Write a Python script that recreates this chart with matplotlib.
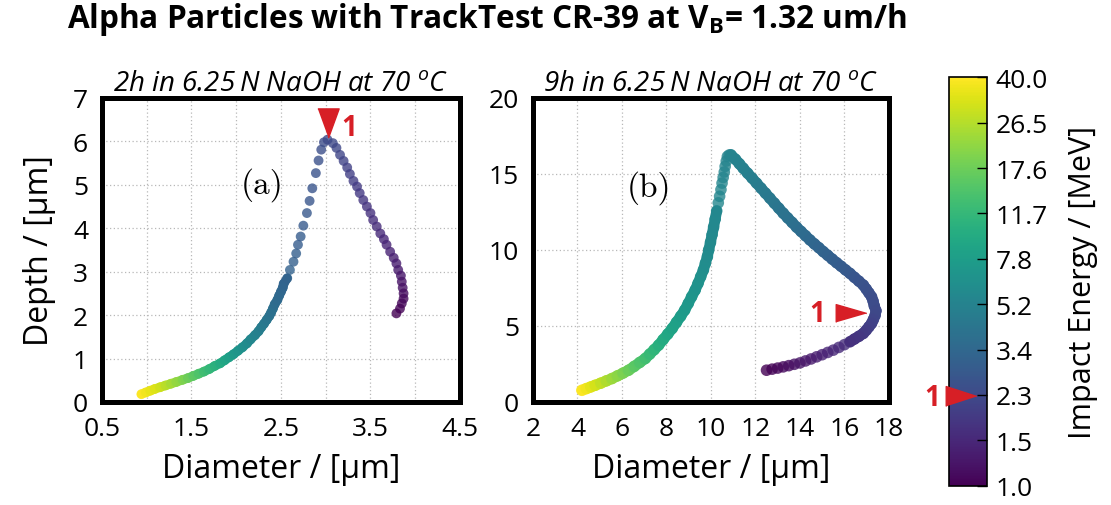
import numpy as np
import matplotlib.pyplot as plt
from matplotlib.colors import LogNorm
from matplotlib.cm import ScalarMappable
from matplotlib.lines import Line2D
from matplotlib.collections import LineCollection

plt.rcParams['font.family'] = ['Open Sans', 'DejaVu Sans']
plt.rcParams['mathtext.fontset'] = 'custom'
plt.rcParams['mathtext.it'] = 'Open Sans:italic'
plt.rcParams['mathtext.rm'] = 'Open Sans'
plt.rcParams['mathtext.bf'] = 'Open Sans:bold'

# ---- data: (a) 2h etch ----
dia_a = [0.94, 0.99, 1.04, 1.09, 1.15, 1.21, 1.27, 1.33, 1.40, 1.46,
         1.52, 1.58, 1.64, 1.70, 1.76, 1.82, 1.87, 1.92, 1.97, 2.02,
         2.07, 2.12, 2.16, 2.21, 2.25, 2.28, 2.31, 2.34, 2.37, 2.39,
         2.41, 2.43, 2.46, 2.48, 2.50, 2.52, 2.53, 2.57, 2.60, 2.64,
         2.67, 2.69, 2.72, 2.75, 2.79, 2.82, 2.85, 2.89, 2.92, 2.95,
         2.98, 3.02,
         3.08, 3.12, 3.16, 3.20, 3.24, 3.27, 3.31, 3.35, 3.38, 3.42,
         3.46, 3.50, 3.53, 3.57, 3.61, 3.65, 3.68, 3.72, 3.76, 3.79,
         3.81, 3.84, 3.85, 3.86, 3.87, 3.87, 3.85, 3.83, 3.79]
depth_a = [0.18, 0.22, 0.26, 0.30, 0.34, 0.38, 0.42, 0.46, 0.51, 0.55,
           0.60, 0.65, 0.70, 0.76, 0.83, 0.89, 0.96, 1.03, 1.10, 1.18,
           1.26, 1.35, 1.44, 1.54, 1.63, 1.72, 1.80, 1.89, 1.98, 2.06,
           2.15, 2.25, 2.35, 2.45, 2.54, 2.63, 2.72, 2.85, 3.04, 3.23,
           3.42, 3.62, 3.81, 4.06, 4.35, 4.63, 4.92, 5.27, 5.56, 5.81,
           5.98, 6.04,
           5.96, 5.85, 5.69, 5.55, 5.40, 5.25, 5.09, 4.96, 4.81, 4.65,
           4.50, 4.35, 4.19, 4.04, 3.88, 3.75, 3.62, 3.46, 3.32, 3.19,
           3.04, 2.91, 2.77, 2.63, 2.50, 2.38, 2.27, 2.15, 2.04]
energy_a = [40, 37, 35, 33, 30, 27, 24.5, 22, 19.5, 17.5,
            15.8, 14.2, 12.8, 11.6, 10.5, 9.5, 8.7, 8.0, 7.3, 6.8,
            6.3, 5.9, 5.5, 5.2, 4.9, 4.65, 4.45, 4.25, 4.1, 3.95,
            3.82, 3.7, 3.6, 3.5, 3.42, 3.34, 3.27, 3.2, 3.13, 3.06,
            3.0, 2.94, 2.88, 2.82, 2.76, 2.7, 2.64, 2.58, 2.5, 2.43,
            2.37, 2.3,
            2.25, 2.2, 2.15, 2.1, 2.05, 2.0, 1.95, 1.9, 1.85, 1.8,
            1.75, 1.7, 1.65, 1.6, 1.55, 1.5, 1.46, 1.42, 1.38, 1.34,
            1.3, 1.26, 1.22, 1.18, 1.14, 1.1, 1.07, 1.03, 1.0]

# ---- data: (b) 9h etch ----
dia_b = [4.20, 4.40, 4.60, 4.80, 5.05, 5.30, 5.55, 5.80, 6.05, 6.30,
         6.55, 6.80, 7.05, 7.25, 7.45, 7.65, 7.85, 8.06, 8.26, 8.45,
         8.64, 8.82, 8.98, 9.13, 9.29, 9.42, 9.54, 9.66, 9.75, 9.84,
         9.90, 9.98, 10.05, 10.12, 10.19, 10.26, 10.33, 10.39, 10.45, 10.50,
         10.55, 10.60, 10.64, 10.69, 10.74, 10.82, 10.90,
         11.10, 11.28, 11.45, 11.65, 11.85, 12.05, 12.25, 12.45, 12.65, 12.85,
         13.05, 13.25, 13.45, 13.65, 13.85, 14.05, 14.25, 14.45, 14.65, 14.85,
         15.05, 15.25, 15.45, 15.65, 15.85, 16.05, 16.25, 16.45, 16.65, 16.85,
         16.98, 17.10, 17.22, 17.29, 17.34,
         17.42, 17.38, 17.30, 17.22, 17.10, 16.98, 16.85, 16.65, 16.45, 16.25,
         16.00, 15.75, 15.50, 15.25, 15.00, 14.75, 14.50, 14.25, 14.00, 13.75,
         13.50, 13.25, 13.00, 12.75, 12.50]
depth_b = [0.77, 0.88, 0.99, 1.10, 1.24, 1.39, 1.54, 1.72, 1.90, 2.09,
           2.34, 2.60, 2.86, 3.15, 3.44, 3.74, 4.10, 4.47, 4.84, 5.24,
           5.64, 6.04, 6.48, 6.92, 7.36, 7.80, 8.24, 8.68, 9.12, 9.56,
           10.0, 10.5, 11.0, 11.5, 12.03, 12.57, 13.1, 13.53, 13.97, 14.4,
           14.77, 15.13, 15.5, 15.85, 16.15, 16.25, 16.26,
           15.97, 15.67, 15.38, 15.05, 14.73, 14.40, 14.07, 13.74, 13.41, 13.08,
           12.75, 12.42, 12.11, 11.81, 11.50, 11.22, 10.94, 10.66, 10.40, 10.15,
           9.89, 9.65, 9.40, 9.16, 8.93, 8.69, 8.46, 8.20, 7.95, 7.69,
           7.43, 7.18, 6.92, 6.63, 6.33,
           6.00, 5.70, 5.42, 5.17, 4.94, 4.72, 4.51, 4.32, 4.14, 3.96,
           3.77, 3.59, 3.41, 3.26, 3.11, 2.97, 2.83, 2.70, 2.57, 2.48,
           2.39, 2.31, 2.23, 2.16, 2.09]
energy_b = [40, 37, 34, 31, 28, 25.5, 23, 21, 19, 17.2,
            15.6, 14.2, 13, 12, 11.1, 10.3, 9.6, 9.0, 8.5, 8.1,
            7.7, 7.4, 7.1, 6.9, 6.7, 6.5, 6.35, 6.2, 6.05, 5.95,
            5.85, 5.75, 5.7, 5.65, 5.6, 5.55, 5.5, 5.45, 5.42, 5.4,
            5.38, 5.36, 5.34, 5.32, 5.31, 5.3, 5.3,
            5.2, 5.1, 5.0, 4.9, 4.8, 4.7, 4.6, 4.5, 4.4, 4.3,
            4.2, 4.1, 4.0, 3.9, 3.8, 3.7, 3.6, 3.5, 3.4, 3.3,
            3.22, 3.14, 3.06, 2.98, 2.9, 2.83, 2.76, 2.69, 2.62, 2.56,
            2.5, 2.45, 2.4, 2.37, 2.34,
            2.3, 2.22, 2.14, 2.07, 2.0, 1.93, 1.86, 1.8, 1.74, 1.68,
            1.62, 1.56, 1.51, 1.46, 1.41, 1.36, 1.31, 1.27, 1.23, 1.19,
            1.15, 1.11, 1.07, 1.03, 1.0]

cbar_labels = ['1.0', '1.5', '2.3', '3.4', '5.2', '7.8', '11.7', '17.6', '26.5', '40.0']

red = '#d71f26'
norm = LogNorm(vmin=1, vmax=40)
cmap = plt.get_cmap('viridis')

fig = plt.figure(figsize=(11.11, 5.06), dpi=100)
ax1 = fig.add_axes([0.0918, 0.2036, 0.3222, 0.6008])
ax2 = fig.add_axes([0.4797, 0.2036, 0.3204, 0.6008])
cax = fig.add_axes([0.8542, 0.0381, 0.0342, 0.8071])


def style(ax):
    for sp in ax.spines.values():
        sp.set_linewidth(3.6)
        sp.set_color('black')
    ax.grid(True, which='both', color='#b8b8b8', linestyle=(0, (1, 2)), linewidth=0.9)
    ax.set_axisbelow(True)
    ax.tick_params(which='both', length=0, labelsize=19, pad=10)


def band(ax, x, y, e, i0, i1, lw):
    # where the points sit so close they merge into a band
    pts = np.column_stack([x[i0:i1], y[i0:i1]])
    segs = np.stack([pts[:-1], pts[1:]], axis=1)
    ee = np.sqrt(np.array(e[i0:i1 - 1]) * np.array(e[i0 + 1:i1]))
    lc = LineCollection(segs, colors=cmap(norm(ee)), linewidths=lw,
                        capstyle='round', zorder=2)
    ax.add_collection(lc)


# panel (a)
band(ax1, dia_a, depth_a, energy_a, 0, 38, 6.6)
ax1.scatter(dia_a, depth_a, c=energy_a, cmap=cmap, norm=norm, s=50,
            alpha=0.8, linewidths=0, zorder=3)
ax1.set_xlim(0.5, 4.5)
ax1.set_ylim(0, 7)
ax1.set_xticks([0.5, 1.5, 2.5, 3.5, 4.5])
ax1.set_xticks([1.0, 2.0, 3.0, 4.0], minor=True)
ax1.set_yticks(range(0, 8))
style(ax1)
ax1.set_xlabel('Diameter / [\u00b5m]', fontsize=23, labelpad=8)
ax1.set_ylabel('Depth / [\u00b5m]', fontsize=23, labelpad=12)
ax1.set_title('2h in 6.25\u2009N NaOH at 70 $^{o}$C', fontstyle='italic',
              fontsize=20, pad=6)
ax1.text(2.29, 5.02, '(a)', family='cmr10', fontsize=24, ha='center', va='center')
ax1.plot([3.02], [6.42], marker=[(-0.73, 1), (0.73, 1), (0, -1)], markersize=21,
         color=red, linestyle='none', zorder=5, clip_on=False)
ax1.text(3.26, 6.31, '1', color=red, fontsize=20, fontweight='bold',
         ha='center', va='center', zorder=5)

# panel (b)
band(ax2, dia_b, depth_b, energy_b, 0, 36, 7.8)
band(ax2, dia_b, depth_b, energy_b, 46, 92, 7.8)
ax2.scatter(dia_b, depth_b, c=energy_b, cmap=cmap, norm=norm, s=70,
            alpha=0.8, linewidths=0, zorder=3)
ax2.set_xlim(2, 18)
ax2.set_ylim(0, 20)
ax2.set_xticks(range(2, 19, 2))
ax2.set_yticks(range(0, 21, 5))
style(ax2)
ax2.set_xlabel('Diameter / [\u00b5m]', fontsize=23, labelpad=8)
ax2.set_title('9h in 6.25\u2009N NaOH at 70 $^{o}$C', fontstyle='italic',
              fontsize=20, pad=6)
ax2.text(7.21, 14.17, '(b)', family='cmr10', fontsize=24, ha='center', va='center')
ax2.plot([16.29], [5.83], marker=[(-1, -0.58), (-1, 0.58), (1, 0)], markersize=22,
         color=red, linestyle='none', zorder=5)
ax2.text(14.8, 5.83, '1', color=red, fontsize=20, fontweight='bold',
         ha='center', va='center', zorder=5)

# colorbar
cb = fig.colorbar(ScalarMappable(norm=norm, cmap=cmap), cax=cax)
cb.set_ticks(np.geomspace(1, 40, len(cbar_labels)))
cb.set_ticklabels(cbar_labels)
cb.minorticks_off()
cb.outline.set_linewidth(1.2)
cax.tick_params(direction='in', length=7, width=1, labelsize=19, pad=6)
cb.set_label('Impact Energy / [MeV]', fontsize=22, labelpad=15)

fig.add_artist(Line2D([0.865], [0.2154], marker=[(-1, -0.65), (-1, 0.65), (1, 0)],
                      markersize=22, color=red, linestyle='none',
                      transform=fig.transFigure))
fig.text(0.839, 0.2115, '1', color=red, fontsize=20, fontweight='bold',
         ha='center', va='center')

fig.text(0.06, 0.962, 'Alpha Particles with TrackTest CR-39 at V$_{\\mathbf{B}}$= 1.32 um/h',
         fontsize=22.7, fontweight='bold', ha='left', va='center')

fig.savefig('out.png', dpi=100)
